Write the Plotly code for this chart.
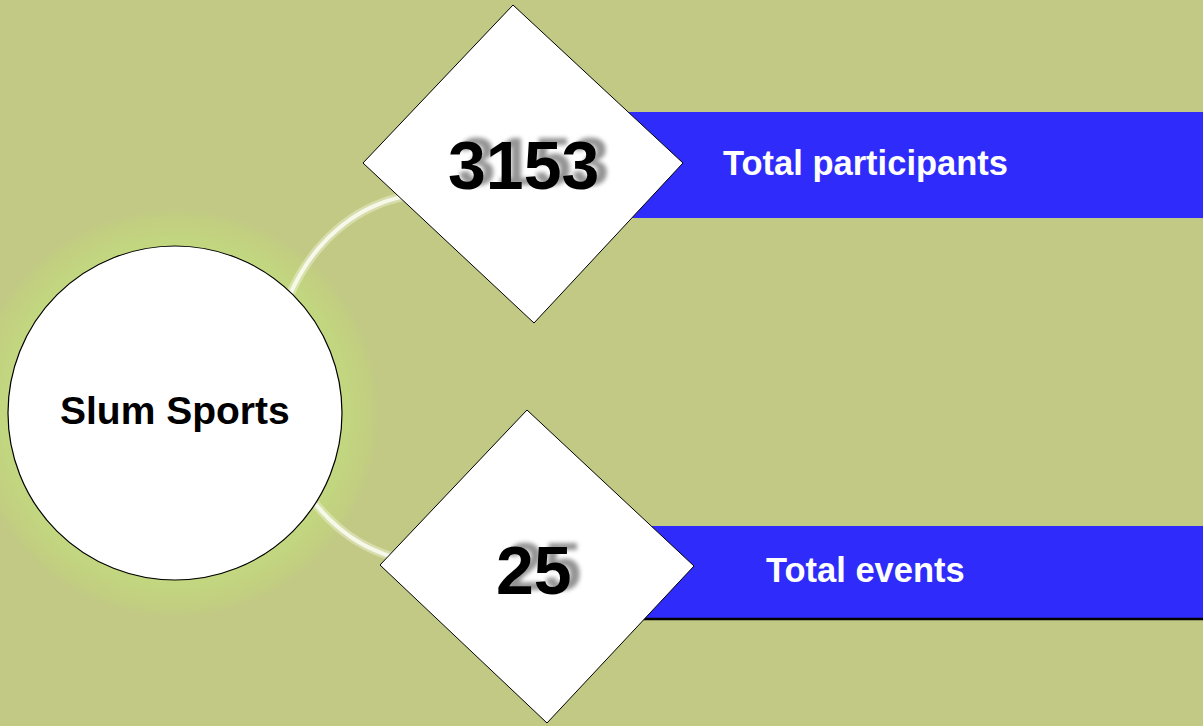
import numpy as np
import plotly.graph_objects as go

# ---- data ----
title = "Slum Sports"
labels = ["Total participants", "Total events"]
values = [3153, 25]

# ---- styling / geometry ----
W, H = 1203, 726
BG = "#c2c984"
BLUE = "#2f2cfb"

fig = go.Figure()
shapes = []

# glow around circle
cx, cy, r = 175, 413, 167
for g in np.arange(36, 0, -3):
    shapes.append(dict(type="circle", xref="x", yref="y",
                       x0=cx - r - g, x1=cx + r + g, y0=cy - r - g, y1=cy + r + g,
                       fillcolor="rgba(200,232,128,0.08)", line=dict(width=0)))

# connecting arc (ellipse)
ex, ey, erx, ery = 430, 378, 157, 184
t = np.linspace(np.deg2rad(-100), np.deg2rad(100), 120)
px = ex - erx * np.cos(t)
py = ey + ery * np.sin(t)
arc_path = "M " + " L ".join(f"{a:.1f},{b:.1f}" for a, b in zip(px, py))
shapes.append(dict(type="path", path=arc_path, xref="x", yref="y",
                   line=dict(color="rgba(255,255,240,0.35)", width=9)))
shapes.append(dict(type="path", path=arc_path, xref="x", yref="y",
                   line=dict(color="#f6f8ea", width=4)))

# main circle
shapes.append(dict(type="circle", xref="x", yref="y",
                   x0=cx - r, x1=cx + r, y0=cy - r, y1=cy + r,
                   fillcolor="white", line=dict(color="black", width=1.2)))

# banners
banners = [(600, 112, 218), (615, 526, 618)]
for i, (bx0, by0, by1) in enumerate(banners):
    shapes.append(dict(type="rect", xref="x", yref="y", x0=bx0, x1=W + 5,
                       y0=by0, y1=by1, fillcolor=BLUE, line=dict(width=0)))
# dark underline on second banner
shapes.append(dict(type="line", xref="x", yref="y", x0=615, x1=W + 5,
                   y0=619, y1=619, line=dict(color="black", width=2.5)))

# diamonds
diamonds = [
    [(513, 5), (683, 163), (534, 323), (363, 163)],
    [(527, 410), (694, 566), (547, 723), (380, 565)],
]
for d in diamonds:
    p = "M " + " L ".join(f"{a},{b}" for a, b in d) + " Z"
    shapes.append(dict(type="path", path=p, xref="x", yref="y",
                       fillcolor="white", line=dict(color="black", width=1)))

annotations = []
annotations.append(dict(x=cx, y=410, xref="x", yref="y", text=f"<b>{title}</b>",
                        showarrow=False, xanchor="center", yanchor="middle",
                        font=dict(family="Liberation Sans, Arial", size=39, color="black")))

num_pos = [(523, 165), (534, 570)]
lab_pos = [(865, 163), (865, 570)]
for v, lab, (nx, ny), (lx, ly) in zip(values, labels, num_pos, lab_pos):
    annotations.append(dict(x=nx, y=ny, xref="x", yref="y", text=f"<b>{v}</b>",
                            showarrow=False, xanchor="center", yanchor="middle",
                            font=dict(family="Liberation Sans, Arial", size=68, color="black",
                                      shadow="10px -4px 4px rgba(0,0,0,0.42)")))
    annotations.append(dict(x=lx, y=ly, xref="x", yref="y", text=f"<b>{lab}</b>",
                            showarrow=False, xanchor="center", yanchor="middle",
                            font=dict(family="Liberation Sans, Arial", size=34.5, color="white")))

fig.update_layout(
    width=W, height=H,
    margin=dict(l=0, r=0, t=0, b=0),
    paper_bgcolor=BG, plot_bgcolor=BG,
    xaxis=dict(range=[0, W], visible=False, fixedrange=True),
    yaxis=dict(range=[H, 0], visible=False, fixedrange=True),
    shapes=shapes, annotations=annotations,
    showlegend=False,
)

fig.write_html("out.html", config={"displayModeBar": False},
               post_script="document.body.style.margin='0';document.body.style.background='%s';" % BG)
